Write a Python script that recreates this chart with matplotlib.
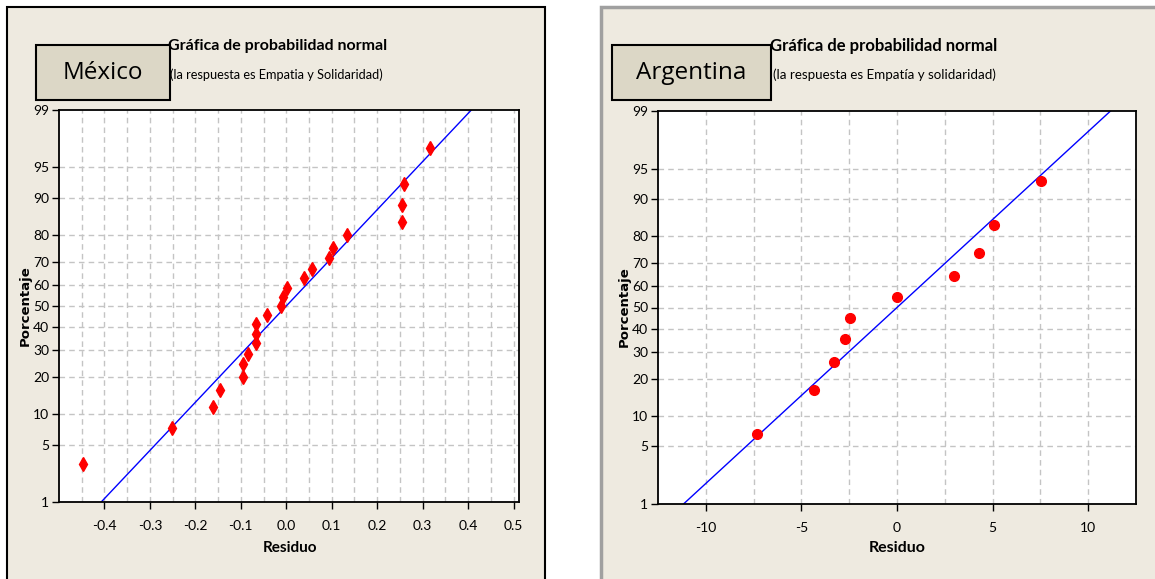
import numpy as np
import matplotlib.pyplot as plt
from matplotlib.patches import Rectangle
from statistics import NormalDist

# residuos ordenados y porcentaje acumulado de cada punto
mex_residuo = [-0.448, -0.251, -0.162, -0.146, -0.096, -0.096, -0.085, -0.067, -0.067, -0.067,
               -0.043, -0.011, -0.007, 0.002, 0.038, 0.057, 0.094, 0.102, 0.133, 0.254,
               0.254, 0.258, 0.316]
mex_pct = [3.0, 7.3, 11.5, 15.8, 20.1, 24.4, 28.6, 32.9, 37.2, 41.5, 45.7, 50.0,
           54.3, 58.5, 62.8, 67.1, 71.4, 75.6, 79.9, 84.2, 88.5, 92.7, 97.0]
mex_mu, mex_sigma = 0.0, 0.175

arg_residuo = [-7.33, -4.33, -3.31, -2.70, -2.44, 0.0, 3.0, 4.28, 5.09, 7.54]
arg_pct = [6.7, 16.3, 26.0, 35.6, 45.2, 54.8, 64.4, 74.0, 83.7, 93.3]
arg_mu, arg_sigma = 0.0, 4.80

pct_ticks = [1, 5, 10, 20, 30, 40, 50, 60, 70, 80, 90, 95, 99]
mex_xticks = [-0.4, -0.3, -0.2, -0.1, 0.0, 0.1, 0.2, 0.3, 0.4, 0.5]
arg_xticks = [-10, -5, 0, 5, 10]

W, H = 1155, 579
fig = plt.figure(figsize=(W / 100, H / 100), dpi=100)
fig.patch.set_facecolor('white')

NARROW = 'Lato'
BEIGE = '#eeeae0'
BOX = '#dcd7c6'


def fx(x):
    return x / W


def fy(y):
    return 1 - y / H


def prob(p):
    return NormalDist().inv_cdf(p / 100)


def panel(x0, x1, edge, lw):
    fig.patches.append(Rectangle((fx(x0), fy(590)), fx(x1) - fx(x0), fy(7) - fy(590),
                                 transform=fig.transFigure, facecolor=BEIGE,
                                 edgecolor=edge, lw=lw, zorder=-5))


def label_box(x0, x1, text):
    fig.patches.append(Rectangle((fx(x0), fy(100)), fx(x1) - fx(x0), fy(45) - fy(100),
                                 transform=fig.transFigure, facecolor=BOX,
                                 edgecolor='black', lw=1.5, zorder=5))
    fig.text(fx((x0 + x1) / 2), fy(73), text, ha='center', va='center',
             fontsize=17.5, family='Open Sans', zorder=6)


def prob_plot(rect, residuo, pct, mu, sigma, xlim, xticks, xlabels, xgrid, marker, msize):
    ax = fig.add_axes(rect)
    ax.set_facecolor('white')
    ax.set_xlim(xlim)
    ax.set_ylim(prob(1), prob(99))

    # cuadricula discontinua
    for t in pct_ticks[1:-1]:
        ax.axhline(prob(t), color='#c4c4c4', lw=1, ls=(0, (4, 3)), zorder=1)
    for v in xgrid:
        ax.axvline(v, color='#c4c4c4', lw=1, ls=(0, (4, 3)), zorder=1)

    # recta de ajuste normal
    z = np.array([prob(1), prob(99)])
    ax.plot(mu + sigma * z, z, color='#0000ff', lw=1, zorder=2)

    ax.plot(residuo, [prob(p) for p in pct], ls='none', marker=marker,
            markersize=msize, color='#ff0000', mec='#ff0000', zorder=3, clip_on=False)

    ax.set_yticks([prob(t) for t in pct_ticks])
    ax.set_yticklabels([str(t) for t in pct_ticks])
    ax.set_xticks(xticks)
    ax.set_xticklabels(xlabels)
    ax.tick_params(direction='out', length=5, width=1, labelsize=10)
    ax.tick_params(axis='x', pad=8)
    ax.tick_params(axis='y', pad=2)
    for lab in ax.get_xticklabels() + ax.get_yticklabels():
        lab.set_family(NARROW)
    for s in ax.spines.values():
        s.set_linewidth(1.3)
        s.set_color('black')
    return ax


# México
panel(7, 545, 'black', 1.5)
prob_plot([fx(59), fy(502), fx(519) - fx(59), fy(110) - fy(502)],
          mex_residuo, mex_pct, mex_mu, mex_sigma, (-0.5, 0.512),
          mex_xticks, ['%.1f' % v for v in mex_xticks],
          np.arange(-0.45, 0.51, 0.05), 'd', 7)
fig.text(fx(168), fy(46), 'Gráfica de probabilidad normal', ha='left', va='center',
         fontsize=11.5, fontweight='bold', family=NARROW)
fig.text(fx(170), fy(75), '(la respuesta es Empatia y Solidaridad)', ha='left', va='center',
         fontsize=9.2, family=NARROW)
fig.text(fx(25), fy(306), 'Porcentaje', rotation=90, ha='center', va='center',
         fontsize=9.5, fontweight='bold')
fig.text(fx(290), fy(548), 'Residuo', ha='center', va='center',
         fontsize=11, fontweight='bold', family=NARROW)
label_box(36, 170, 'México')

# Argentina
panel(601, 1160, '#a0a0a0', 2.5)
prob_plot([fx(658), fy(504), fx(1136) - fx(658), fy(111) - fy(504)],
          arg_residuo, arg_pct, arg_mu, arg_sigma, (-12.5, 12.5),
          arg_xticks, [str(v) for v in arg_xticks],
          np.arange(-10, 10.1, 2.5), 'o', 7)
fig.text(fx(770), fy(46), 'Gráfica de probabilidad normal', ha='left', va='center',
         fontsize=12, fontweight='bold', family=NARROW)
fig.text(fx(773), fy(75), '(la respuesta es Empatía y solidaridad)', ha='left', va='center',
         fontsize=9.6, family=NARROW)
fig.text(fx(624), fy(307), 'Porcentaje', rotation=90, ha='center', va='center',
         fontsize=9.5, fontweight='bold')
fig.text(fx(897), fy(548), 'Residuo', ha='center', va='center',
         fontsize=11.5, fontweight='bold', family=NARROW)
label_box(612, 771, 'Argentina')

fig.savefig('out.png', dpi=100)
